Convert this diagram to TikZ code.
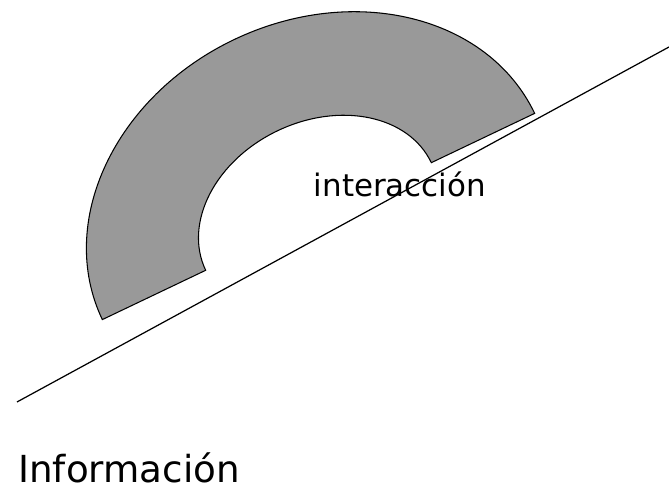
\documentclass[tikz,border=0pt]{standalone}
\usepackage{fontspec}
\setmainfont{DejaVu Sans}
\definecolor{arcgray}{RGB}{153,153,153}

\begin{document}
\begin{tikzpicture}
		%%%%% START %%%%%
		\useasboundingbox (0, 0) rectangle (13.38, 9.94);
		
		\begin{scope}[shift={(6.37, 5.61)}, rotate=25.5]
			\draw[line width=0.6pt, fill=arcgray] (4.79, 0) arc[start angle=0, end angle=180, x radius=4.79, y radius=3.92] -- (-2.5, 0) arc[start angle=180, end angle=0, x radius=2.5, y radius=1.9] -- cycle;
		\end{scope}
		
		\coordinate (lo) at (0.34, 1.90);
		\coordinate (hi) at (13.38, 9.00);
		\draw[line width=0.7pt] (lo) -- (hi);
		
		\node[font=\fontsize{17.6}{20}\selectfont, anchor=base] (inter) at (8.0, 6.0) {interacción};
		\node[font=\fontsize{21.2}{25}\selectfont, anchor=base west, inner sep=0] (info) at (0.36, 0.28) {Información};
		
		%%%%% END %%%%%
\end{tikzpicture}
\end{document}
